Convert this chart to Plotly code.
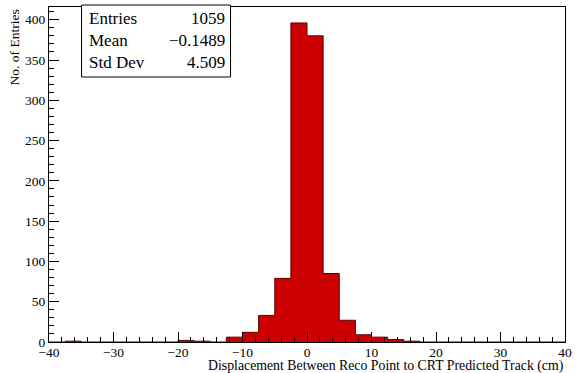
import plotly.graph_objects as go

# Histogram: 32 bins of width 2.5 cm from -40 to 40
bin_low = -40.0
bin_width = 2.5
counts = [0, 1, 0, 0, 0, 0, 0, 0, 2, 1, 0, 6, 12, 33, 79, 396,
          380, 85, 27, 9, 6, 3, 1, 0, 0, 0, 0, 0, 0, 0, 0, 0]

stat_labels = ["Entries", "Mean", "Std Dev"]
stat_values = ["1059", "\u22120.1489", "4.509"]

x_title = "Displacement Between Reco Point to CRT Predicted Track (cm)"
y_title = "No. of Entries"

edges = [bin_low + i * bin_width for i in range(len(counts) + 1)]
step_y = counts + [counts[-1]]

FONT = "Liberation Serif"
W, H = 578, 373
L, R, T, B = 49, 6, 7, 31
pw, ph = W - L - R, H - T - B

def px(x):
    return (x - L) / pw

def py(y):
    return (H - B - y) / ph

fig = go.Figure()
fig.add_trace(go.Scatter(
    x=edges, y=step_y, mode="lines", line=dict(shape="hv", color="#5a0000", width=1),
    fill="tozeroy", fillcolor="#cc0000", hoverinfo="skip", showlegend=False))

ymax = max(counts) * 1.05

fig.update_layout(
    width=W, height=H,
    margin=dict(l=L, r=R, t=T, b=B),
    paper_bgcolor="white", plot_bgcolor="white",
    font=dict(family=FONT, size=13.5, color="black"),
    showlegend=False,
    xaxis=dict(range=[-40, 40], tickmode="linear", tick0=-40, dtick=10,
               ticks="inside", ticklen=10, tickwidth=1, tickcolor="black",
               minor=dict(dtick=2, tick0=-40, ticks="inside", ticklen=5, tickcolor="black", tickwidth=1, showgrid=False),
               showline=True, linecolor="black", linewidth=1, mirror=True,
               showgrid=False, zeroline=False, ticklabeloverflow="allow",
               ticklabelstandoff=-2,
               tickfont=dict(family=FONT, size=13.5)),
    yaxis=dict(range=[0, ymax], tickmode="linear", tick0=0, dtick=50,
               ticks="inside", ticklen=10, tickwidth=1, tickcolor="black",
               minor=dict(dtick=10, tick0=0, ticks="inside", ticklen=5, tickcolor="black", tickwidth=1, showgrid=False),
               showline=True, linecolor="black", linewidth=1, mirror=True,
               showgrid=False, zeroline=False,
               tickfont=dict(family=FONT, size=13.5)),
)

# Stats box
fig.add_shape(type="rect", xref="paper", yref="paper",
              x0=px(82), x1=px(233), y0=py(77), y1=py(5),
              fillcolor="white", line=dict(color="black", width=1), layer="above")
row_y = [18, 40, 62]
for lab, val, yy in zip(stat_labels, stat_values, row_y):
    fig.add_annotation(text=lab, xref="paper", yref="paper", x=px(88), y=py(yy),
                       xanchor="left", yanchor="middle", showarrow=False,
                       font=dict(family=FONT, size=17, color="black"))
    fig.add_annotation(text=val, xref="paper", yref="paper", x=px(229), y=py(yy),
                       xanchor="right", yanchor="middle", showarrow=False,
                       font=dict(family=FONT, size=17, color="black"))

# Axis titles (ROOT style: aligned at the axis ends)
fig.add_annotation(text=x_title, xref="paper", yref="paper", x=1.0, y=py(365.5),
                   xanchor="right", yanchor="middle", showarrow=False,
                   font=dict(family=FONT, size=13.8, color="black"))
fig.add_annotation(text=y_title, xref="paper", yref="paper", x=px(14), y=py(7),
                   xanchor="center", yanchor="top", textangle=-90, showarrow=False,
                   font=dict(family=FONT, size=13.5, color="black"))

fig.write_html("out.html", config={"displayModeBar": False})

# remove the browser's default page margin so the figure sits at (0, 0)
with open("out.html", "r", encoding="utf-8") as f:
    html = f.read()
html = html.replace("<head>", "<head><style>html,body{margin:0;padding:0;overflow:hidden;}</style>", 1)
with open("out.html", "w", encoding="utf-8") as f:
    f.write(html)
